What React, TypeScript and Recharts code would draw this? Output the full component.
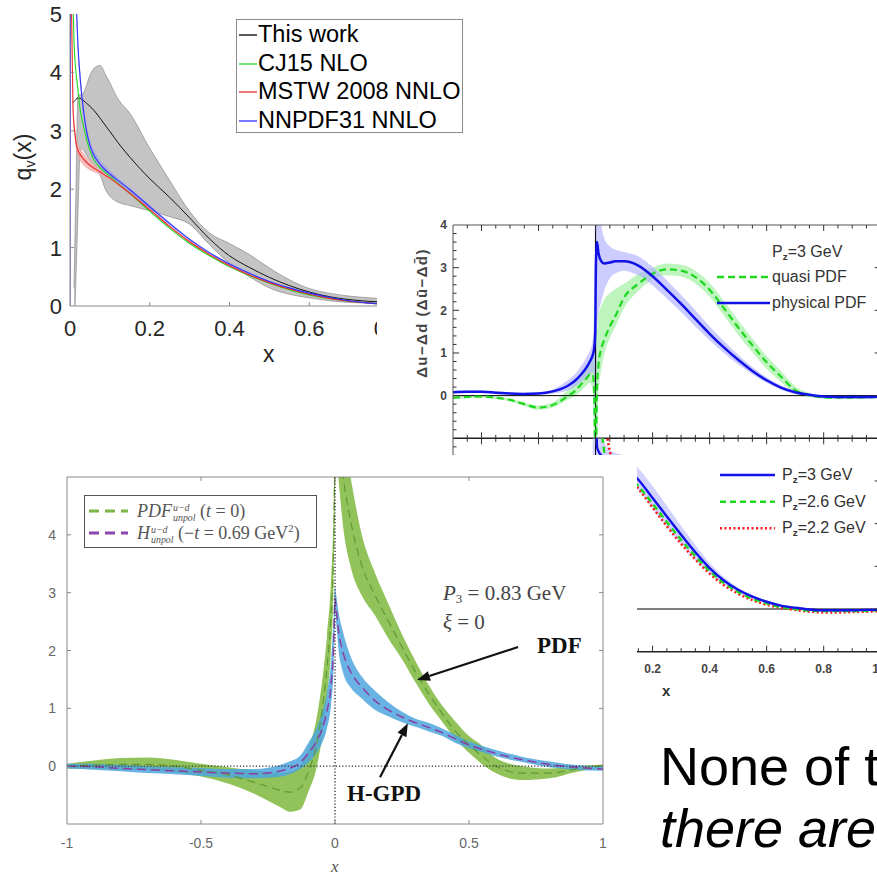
import React from 'react';
import { ComposedChart, Line, Area, XAxis, YAxis, ReferenceLine } from 'recharts';

const SANS = '"Liberation Sans", Arial, Helvetica, sans-serif';
const SERIF = '"Liberation Serif", "Times New Roman", serif';

// ---------- top-left figure: q_v(x) ----------
const qvX = [0, 0.002, 0.005, 0.0075, 0.01, 0.0125, 0.015, 0.02, 0.025, 0.03, 0.04, 0.05, 0.06, 0.075, 0.09, 0.1, 0.12, 0.15, 0.2, 0.25, 0.3, 0.35, 0.4, 0.45, 0.5, 0.55, 0.6, 0.65, 0.7, 0.75, 0.8];
const thisWork = [null, null, null, 3.48, 3.5, 3.52, 3.54, 3.56, 3.56, 3.54, 3.48, 3.42, 3.35, 3.22, 3.08, 2.99, 2.8, 2.55, 2.18, 1.86, 1.51, 1.15, 0.86, 0.66, 0.49, 0.35, 0.24, 0.16, 0.11, 0.08, 0.06];
const thisWorkLo = [null, null, null, null, 0, 0, 0.5, 1.6, 2.6, 2.7, 2.6, 2.5, 2.4, 2.25, 1.98, 1.88, 1.78, 1.72, 1.63, 1.53, 1.4, 1.05, 0.73, 0.5, 0.31, 0.2, 0.14, 0.09, 0.06, 0.05, 0.04];
const thisWorkHi = [null, null, null, null, 0.3, 1.2, 2.0, 3.6, 3.62, 3.62, 3.75, 3.95, 4.07, 4.12, 3.95, 3.82, 3.55, 3.3, 2.7, 2.15, 1.62, 1.25, 1.07, 0.88, 0.65, 0.45, 0.3, 0.22, 0.17, 0.14, 0.12];
const cj15 = [null, null, 6.5, 5.3, 4.55, 4.2, 4.0, 3.7, 3.38, 3.2, 2.9, 2.66, 2.5, 2.37, 2.28, 2.22, 2.1, 1.93, 1.62, 1.33, 1.07, 0.86, 0.67, 0.52, 0.39, 0.28, 0.19, 0.13, 0.08, 0.05, 0.03];
const mstw = [null, 6, 4.55, 3.41, 3.1, 2.95, 2.8, 2.66, 2.6, 2.55, 2.47, 2.41, 2.36, 2.3, 2.23, 2.19, 2.09, 1.93, 1.65, 1.36, 1.1, 0.88, 0.69, 0.53, 0.4, 0.29, 0.2, 0.13, 0.08, 0.05, 0.03];
const mstwLo = [null, 5.8, 4.4, 3.3, 2.98, 2.82, 2.68, 2.55, 2.49, 2.44, 2.37, 2.32, 2.29, 2.25, 2.19, 2.16, 2.07, 1.91, 1.63, 1.34, 1.08, 0.86, 0.67, 0.51, 0.38, 0.27, 0.19, 0.12, 0.07, 0.04, 0.02];
const mstwHi = [null, 6.2, 4.7, 3.52, 3.22, 3.08, 2.92, 2.77, 2.71, 2.66, 2.57, 2.5, 2.43, 2.35, 2.27, 2.22, 2.11, 1.95, 1.67, 1.38, 1.12, 0.9, 0.71, 0.55, 0.42, 0.31, 0.21, 0.14, 0.09, 0.06, 0.04];
const nnpdf = [0, 7, 7, 6.5, 6.0, 5.6, 5.3, 4.45, 3.95, 3.58, 3.05, 2.75, 2.58, 2.43, 2.32, 2.26, 2.15, 1.99, 1.7, 1.41, 1.14, 0.91, 0.72, 0.56, 0.42, 0.31, 0.22, 0.15, 0.09, 0.05, 0.03];
const nnpdfLo = [null, null, null, 6.3, 5.8, 5.4, 5.1, 4.3, 3.82, 3.47, 2.95, 2.66, 2.5, 2.36, 2.26, 2.2, 2.1, 1.95, 1.67, 1.38, 1.12, 0.89, 0.7, 0.54, 0.41, 0.3, 0.21, 0.14, 0.08, 0.04, 0.02];
const nnpdfHi = [null, null, null, 6.7, 6.2, 5.8, 5.5, 4.6, 4.08, 3.7, 3.16, 2.85, 2.67, 2.5, 2.39, 2.32, 2.2, 2.03, 1.73, 1.44, 1.16, 0.93, 0.74, 0.58, 0.43, 0.32, 0.23, 0.16, 0.1, 0.06, 0.04];
const qvXTicks = [0, 0.2, 0.4, 0.6, 0.8];
const qvXLabels = ['0', '0.2', '0.4', '0.6', '0.8'];
const qvYTicks = [0, 1, 2, 3, 4, 5];
const qvYLabels = ['0', '1', '2', '3', '4', '5'];
const qvLegend = ['This work', 'CJ15 NLO', 'MSTW 2008 NNLO', 'NNPDF31 NNLO'];

// ---------- right figure, upper panel: helicity PDF ----------
const helX = [-0.5, -0.45, -0.4, -0.35, -0.3, -0.25, -0.2, -0.15, -0.1, -0.07, -0.05, -0.03, -0.02, -0.01, -0.005, -0.001, 0.001, 0.005, 0.01, 0.02, 0.03, 0.05, 0.07, 0.1, 0.15, 0.2, 0.25, 0.3, 0.35, 0.4, 0.45, 0.5, 0.55, 0.6, 0.65, 0.7, 0.75, 0.8, 0.85, 0.9, 0.95, 1.0];
const physical = [0.08, 0.09, 0.09, 0.07, 0.05, 0.04, 0.05, 0.1, 0.22, 0.36, 0.5, 0.68, 0.8, 0.95, 1.1, 1.5, 3.0, 3.6, 3.35, 3.15, 3.1, 3.12, 3.15, 3.15, 3.05, 2.8, 2.48, 2.15, 1.8, 1.45, 1.13, 0.84, 0.58, 0.36, 0.19, 0.08, 0.02, -0.02, -0.03, -0.03, -0.03, -0.02];
const physLo = [0.05, 0.06, 0.06, 0.04, 0.02, 0.01, 0.02, 0.05, 0.12, 0.22, 0.32, 0.45, 0.5, 0.55, 0.4, -1.5, -1.5, 1.5, 1.9, 2.2, 2.45, 2.75, 2.87, 2.93, 2.82, 2.58, 2.28, 1.96, 1.62, 1.3, 1.0, 0.73, 0.5, 0.3, 0.14, 0.04, -0.01, -0.05, -0.06, -0.06, -0.06, -0.05];
const physHi = [0.11, 0.12, 0.12, 0.1, 0.08, 0.07, 0.08, 0.15, 0.35, 0.52, 0.7, 0.92, 1.05, 1.3, 2.0, 5, 5, 5, 4.6, 4.0, 3.7, 3.5, 3.42, 3.37, 3.27, 3.02, 2.7, 2.36, 2.0, 1.62, 1.28, 0.96, 0.67, 0.43, 0.24, 0.12, 0.05, 0.01, 0.0, 0.0, 0.0, 0.01];
const quasi = [-0.05, -0.03, -0.02, -0.05, -0.1, -0.2, -0.28, -0.22, -0.02, 0.12, 0.27, 0.42, 0.5, 0.5, 0.2, -1.5, -1.5, 0.2, 0.7, 1.1, 1.3, 1.62, 1.87, 2.3, 2.62, 2.86, 2.96, 2.93, 2.78, 2.48, 2.05, 1.6, 1.18, 0.78, 0.45, 0.13, 0.01, -0.04, -0.05, -0.05, -0.04, -0.03];
const quasiLo = [-0.08, -0.06, -0.05, -0.08, -0.13, -0.24, -0.33, -0.28, -0.1, 0.0, 0.12, 0.25, 0.3, 0.1, -1, -1.5, -1.5, -1.5, 0.0, 0.6, 0.95, 1.35, 1.62, 2.05, 2.45, 2.72, 2.82, 2.79, 2.63, 2.32, 1.88, 1.43, 1.02, 0.63, 0.32, 0.04, -0.04, -0.07, -0.08, -0.08, -0.07, -0.06];
const quasiHi = [-0.02, 0.0, 0.01, -0.02, -0.07, -0.16, -0.23, -0.16, 0.12, 0.3, 0.45, 0.65, 0.75, 0.9, 1.2, 2.5, 2.5, 1.5, 1.9, 2.1, 2.25, 2.4, 2.5, 2.62, 2.85, 3.0, 3.1, 3.07, 2.93, 2.64, 2.22, 1.77, 1.34, 0.93, 0.58, 0.22, 0.06, -0.01, -0.02, -0.02, -0.01, 0.0];

// ---------- right figure, lower panel: momentum dependence ----------
const pzX = [-0.01, 0.001, 0.005, 0.01, 0.02, 0.03, 0.04, 0.05, 0.06, 0.08, 0.1, 0.15, 0.2, 0.25, 0.3, 0.35, 0.4, 0.45, 0.5, 0.55, 0.6, 0.65, 0.7, 0.75, 0.8, 0.85, 0.9, 0.95, 1.0];
const pz3 = [null, 6, 3.8, 3.7, 3.6, 3.5, 3.45, 3.42, 3.4, 3.38, 3.33, 3.03, 2.6, 2.17, 1.74, 1.33, 0.96, 0.67, 0.45, 0.29, 0.17, 0.08, 0.03, -0.01, -0.03, -0.03, -0.03, -0.02, -0.02];
const pz3Lo = [-1.5, -1.5, 2.5, 3.2, 3.3, 3.25, 3.2, 3.17, 3.15, 3.12, 3.05, 2.78, 2.35, 1.93, 1.52, 1.15, 0.83, 0.58, 0.38, 0.24, 0.13, 0.05, 0.0, -0.04, -0.06, -0.06, -0.06, -0.05, -0.05];
const pz3Hi = [8, 8, 8, 5.0, 4.2, 3.9, 3.8, 3.72, 3.68, 3.64, 3.6, 3.3, 2.88, 2.42, 1.95, 1.5, 1.08, 0.75, 0.5, 0.33, 0.2, 0.1, 0.05, 0.02, 0.0, 0.0, 0.0, 0.01, 0.01];
const pz26 = [null, 12, 9, 6.5, 4.5, 3.7, 3.45, 3.36, 3.32, 3.27, 3.2, 2.88, 2.47, 2.04, 1.62, 1.24, 0.89, 0.61, 0.4, 0.24, 0.13, 0.05, 0.0, -0.04, -0.05, -0.05, -0.05, -0.04, -0.03];
const pz22 = [null, 14, 11, 8.5, 5.8, 4.8, 4.1, 3.7, 3.5, 3.3, 3.2, 2.82, 2.38, 1.94, 1.53, 1.16, 0.83, 0.56, 0.36, 0.21, 0.1, 0.03, -0.02, -0.06, -0.08, -0.08, -0.07, -0.06, -0.05];
const helXTicks = [-0.5, -0.45, -0.4, -0.35, -0.3, -0.25, -0.2, -0.15, -0.1, -0.05, 0, 0.05, 0.1, 0.15, 0.2, 0.25, 0.3, 0.35, 0.4, 0.45, 0.5, 0.55, 0.6, 0.65, 0.7, 0.75, 0.8, 0.85, 0.9, 0.95, 1.0];
const helXMajor = [-0.4, -0.2, 0, 0.2, 0.4, 0.6, 0.8, 1.0];
const helXLabels = ['-0.4', '-0.2', '0.0', '0.2', '0.4', '0.6', '0.8', '1.0'];
const helYTicks = [-1, -0.8, -0.6, -0.4, -0.2, 0, 0.2, 0.4, 0.6, 0.8, 1, 1.2, 1.4, 1.6, 1.8, 2, 2.2, 2.4, 2.6, 2.8, 3, 3.2, 3.4, 3.6, 3.8, 4];
const helYMajor = [-1, 0, 1, 2, 3, 4];
const helYLabels = ['', '0', '1', '2', '3', '4'];

// ---------- bottom-left figure: PDF vs H-GPD ----------
const gX = [-1, -0.9, -0.8, -0.7, -0.6, -0.5, -0.4, -0.3, -0.2, -0.17, -0.13, -0.1, -0.07, -0.05, -0.03, -0.015, -0.005, 0, 0.005, 0.012, 0.03, 0.06, 0.1, 0.15, 0.2, 0.25, 0.3, 0.35, 0.4, 0.45, 0.5, 0.55, 0.6, 0.7, 0.8, 0.9, 1.0];
const pdfMid = [0, 0.02, 0.03, 0.03, 0.0, -0.07, -0.15, -0.28, -0.42, -0.45, -0.38, -0.1, 0.35, 0.9, 1.7, 2.6, 3.8, 5.5, 6.0, 5.6, 5.0, 4.2, 3.47, 2.95, 2.5, 2.06, 1.63, 1.25, 0.91, 0.6, 0.37, 0.17, 0.0, -0.12, -0.12, -0.05, 0.01];
const pdfLo = [-0.04, -0.05, -0.06, -0.07, -0.11, -0.18, -0.3, -0.48, -0.72, -0.79, -0.75, -0.45, -0.05, 0.45, 1.2, 2.0, 3.2, 4.8, 5.3, 5.0, 4.15, 3.42, 2.95, 2.6, 2.2, 1.85, 1.45, 1.08, 0.77, 0.47, 0.23, 0.03, -0.12, -0.24, -0.21, -0.1, -0.02];
const pdfHi = [0.04, 0.1, 0.14, 0.15, 0.11, 0.04, -0.02, -0.08, -0.12, -0.1, 0.0, 0.3, 0.8, 1.4, 2.25, 3.2, 4.5, 6.2, 6.5, 6.3, 5.8, 4.95, 4.0, 3.33, 2.8, 2.28, 1.82, 1.4, 1.05, 0.77, 0.52, 0.35, 0.14, 0.0, -0.04, 0.0, 0.03];
const gpdMid = [0, -0.01, -0.04, -0.06, -0.08, -0.1, -0.12, -0.13, -0.08, -0.04, 0.06, 0.22, 0.42, 0.62, 0.95, 1.4, 2.1, 2.9, 2.7, 2.38, 1.97, 1.62, 1.37, 1.13, 0.97, 0.85, 0.75, 0.67, 0.58, 0.47, 0.37, 0.29, 0.22, 0.11, 0.03, -0.02, -0.05];
const gpdLo = [-0.04, -0.06, -0.09, -0.12, -0.14, -0.17, -0.2, -0.21, -0.18, -0.14, -0.05, 0.06, 0.22, 0.38, 0.65, 1.05, 1.7, 2.7, 2.45, 2.06, 1.62, 1.35, 1.17, 0.97, 0.86, 0.76, 0.68, 0.6, 0.52, 0.4, 0.31, 0.24, 0.17, 0.07, -0.02, -0.06, -0.08];
const gpdHi = [0.04, 0.04, 0.02, 0.0, -0.02, -0.03, -0.05, -0.05, 0.03, 0.08, 0.18, 0.4, 0.65, 0.9, 1.28, 1.8, 2.6, 3.1, 2.95, 2.7, 2.32, 1.88, 1.55, 1.3, 1.1, 0.94, 0.82, 0.75, 0.65, 0.54, 0.43, 0.35, 0.28, 0.16, 0.08, 0.02, -0.01];
const gXTicks = [-1, -0.5, 0, 0.5, 1];
const gXLabels = ['-1', '-0.5', '0', '0.5', '1'];
const gYTicks = [0, 1, 2, 3, 4];
const gYLabels = ['0', '1', '2', '3', '4'];
// arrow annotations, in data units: [from, to]
const pdfArrow = [{ x: 0.683, y: 2.06 }, { x: 0.306, y: 1.49 }];
const gpdArrow = [{ x: 0.168, y: -0.19 }, { x: 0.272, y: 0.74 }];

// ---------- helpers ----------
type Num = number | null;
function buildRows(xs: number[], lines: Record<string, Num[]>, bands: Record<string, [Num[], Num[]]>) {
  return xs.map((x, i) => {
    const r: any = { x };
    for (const k in lines) r[k] = lines[k][i];
    for (const k in bands) {
      const lo = bands[k][0][i];
      const hi = bands[k][1][i];
      r[k] = lo == null || hi == null ? null : [lo, hi];
    }
    return r;
  });
}

const qvRows = buildRows(qvX, { thisWork, cj15, mstw, nnpdf }, {
  twBand: [thisWorkLo, thisWorkHi], mstwBand: [mstwLo, mstwHi], nnBand: [nnpdfLo, nnpdfHi],
});
const helRows = buildRows(helX, { physical, quasi }, { physBand: [physLo, physHi], quasiBand: [quasiLo, quasiHi] });
const pzRows = buildRows(pzX, { pz3, pz26, pz22 }, { pz3Band: [pz3Lo, pz3Hi] });
const gRows = buildRows(gX, { pdfMid, gpdMid }, { pdfBand: [pdfLo, pdfHi], gpdBand: [gpdLo, gpdHi] });

type Geo = { left: number; top: number; right: number; bottom: number };
const near = (list: number[], v: number) => list.findIndex((t) => Math.abs(t - v) < 1e-6);

type TickCfg = {
  major: number[];
  majorLen: number;
  minorLen: number;
  a: boolean; // bottom / left side
  b: boolean; // top / right side
  color: string;
  width?: number;
  labels?: string[];
  offset: number;
  size: number;
  family: string;
  weight?: string | number;
  fill: string;
};

const xTick = (g: Geo, c: TickCfg) => (p: any) => {
  const x = p.x;
  const v = p.payload.value;
  const mi = near(c.major, v);
  const edge = Math.abs(x - g.left) < 1 || Math.abs(x - g.right) < 1;
  const len = edge ? 0 : mi >= 0 ? c.majorLen : c.minorLen;
  const t = c.labels && mi >= 0 ? c.labels[mi] : '';
  return (
    <g>
      {c.a && len > 0 && <line x1={x} x2={x} y1={g.bottom} y2={g.bottom - len} stroke={c.color} strokeWidth={c.width ?? 1} />}
      {c.b && len > 0 && <line x1={x} x2={x} y1={g.top} y2={g.top + len} stroke={c.color} strokeWidth={c.width ?? 1} />}
      {t !== '' && (
        <text x={x} y={g.bottom + c.offset} textAnchor="middle" fontFamily={c.family} fontSize={c.size} fontWeight={c.weight} fill={c.fill}>
          {t}
        </text>
      )}
    </g>
  );
};

const yTick = (g: Geo, c: TickCfg) => (p: any) => {
  const y = p.y;
  const v = p.payload.value;
  const mi = near(c.major, v);
  const edge = Math.abs(y - g.top) < 1 || Math.abs(y - g.bottom) < 1;
  const len = edge ? 0 : mi >= 0 ? c.majorLen : c.minorLen;
  const t = c.labels && mi >= 0 ? c.labels[mi] : '';
  return (
    <g>
      {c.a && len > 0 && <line x1={g.left} x2={g.left + len} y1={y} y2={y} stroke={c.color} strokeWidth={c.width ?? 1} />}
      {c.b && len > 0 && <line x1={g.right} x2={g.right - len} y1={y} y2={y} stroke={c.color} strokeWidth={c.width ?? 1} />}
      {t !== '' && (
        <text x={g.left - c.offset} y={y + c.size * 0.36} textAnchor="end" fontFamily={c.family} fontSize={c.size} fontWeight={c.weight} fill={c.fill}>
          {t}
        </text>
      )}
    </g>
  );
};

function Txt(props: any) {
  const { x, cy, size, family = SANS, weight, italic, color = '#000', spacing, children } = props;
  return (
    <div
      style={{
        position: 'absolute', left: x, top: cy - size * 0.5, fontSize: size, lineHeight: `${size}px`,
        fontFamily: family, fontWeight: weight, fontStyle: italic ? 'italic' : 'normal', color, whiteSpace: 'nowrap',
        letterSpacing: spacing,
      }}
    >
      {children}
    </div>
  );
}

function VTxt(props: any) {
  const { cx, cy, size, family = SANS, weight, color = '#000', spacing, children } = props;
  return (
    <div
      style={{
        position: 'absolute', left: cx, top: cy, fontSize: size, lineHeight: `${size}px`, fontFamily: family,
        fontWeight: weight, color, whiteSpace: 'nowrap', letterSpacing: spacing, transform: 'translate(-50%, -50%) rotate(-90deg)',
      }}
    >
      {children}
    </div>
  );
}

function Seg(props: any) {
  const { x1, x2, y, color, width, dash } = props;
  return (
    <svg style={{ position: 'absolute', left: 0, top: 0, overflow: 'visible' }} width={1} height={1}>
      <line x1={x1} x2={x2} y1={y} y2={y} stroke={color} strokeWidth={width} strokeDasharray={dash} />
    </svg>
  );
}

const sub = (s: string, extra?: any) => (
  <span style={{ fontSize: '0.62em', position: 'relative', top: '0.3em', lineHeight: 0, ...extra }}>{s}</span>
);

const stack = (hi: string, lo: string) => (
  <span style={{ display: 'inline-block', verticalAlign: 'middle', fontSize: '0.55em', lineHeight: '1em', fontStyle: 'italic', marginLeft: 1 }}>
    <span style={{ display: 'block' }}>{hi}</span>
    <span style={{ display: 'block' }}>{lo}</span>
  </span>
);

const arrowShape = (p: any) => {
  const { x1, y1, x2, y2 } = p;
  const ang = Math.atan2(y2 - y1, x2 - x1);
  const L = 13;
  const W = 5;
  const bx = x2 - L * Math.cos(ang);
  const by = y2 - L * Math.sin(ang);
  const pts = `${x2},${y2} ${bx + W * Math.sin(ang)},${by - W * Math.cos(ang)} ${bx - W * Math.sin(ang)},${by + W * Math.cos(ang)}`;
  return (
    <g>
      <line x1={x1} y1={y1} x2={bx} y2={by} stroke="#111" strokeWidth={2.2} />
      <polygon points={pts} fill="#111" />
    </g>
  );
};

// ---------- panels ----------
const qvGeo: Geo = { left: 70, top: 14, right: 389, bottom: 306 };
const qvColors = ['#000', '#22dd22', '#ee2b2b', '#3030ff'];

function QvPanel() {
  const base = { color: '#8a8a8a', size: 22, family: SANS, fill: '#262626', majorLen: 4, minorLen: 0 };
  return (
    <>
      <div style={{ position: 'absolute', left: 0, top: 0 }}>
        <ComposedChart width={410} height={370} data={qvRows} margin={{ top: 14, right: 21, bottom: 0, left: 0 }}>
          <XAxis type="number" dataKey="x" domain={[0, 0.8]} ticks={qvXTicks} interval={0} allowDataOverflow height={64}
            axisLine={{ stroke: '#8a8a8a' }} tickLine={false}
            tick={xTick(qvGeo, { ...base, major: qvXTicks, labels: qvXLabels, a: true, b: false, offset: 30 })} />
          <YAxis type="number" domain={[0, 5]} ticks={qvYTicks} interval={0} allowDataOverflow width={70}
            axisLine={{ stroke: '#8a8a8a' }} tickLine={false}
            tick={yTick(qvGeo, { ...base, major: qvYTicks, labels: qvYLabels, a: true, b: false, offset: 8 })} />
          <Area dataKey="twBand" type="monotone" fill="#c4c4c4" fillOpacity={1} stroke="#7c7c7c" strokeWidth={0.6} connectNulls isAnimationActive={false} />
          <Area dataKey="mstwBand" type="monotone" fill="#f2a5a5" fillOpacity={0.75} stroke="none" connectNulls isAnimationActive={false} />
          <Area dataKey="nnBand" type="monotone" fill="#9c9cf0" fillOpacity={0.65} stroke="none" connectNulls isAnimationActive={false} />
          <Line dataKey="thisWork" type="monotone" stroke={qvColors[0]} strokeWidth={0.9} dot={false} connectNulls isAnimationActive={false} />
          <Line dataKey="cj15" type="monotone" stroke={qvColors[1]} strokeWidth={1.1} dot={false} connectNulls isAnimationActive={false} />
          <Line dataKey="mstw" type="monotone" stroke={qvColors[2]} strokeWidth={1.1} dot={false} connectNulls isAnimationActive={false} />
          <Line dataKey="nnpdf" type="monotone" stroke={qvColors[3]} strokeWidth={1.1} dot={false} connectNulls isAnimationActive={false} />
        </ComposedChart>
      </div>
      <VTxt cx={23} cy={157} size={23} color="#262626">
        q{sub('v')}(x)
      </VTxt>
      <Txt x={263} cy={354} size={23} color="#262626">x</Txt>
      <div style={{ position: 'absolute', left: 236, top: 19, width: 227, height: 114, border: '1px solid #8c8c8c', background: '#fff', boxSizing: 'border-box' }}>
        {qvLegend.map((name, i) => {
          const cy = Math.round(15 + i * 28.5);
          return (
            <React.Fragment key={name}>
              <Seg x1={2} x2={20} y={cy} color={qvColors[i]} width={1.3} />
              <Txt x={21} cy={cy} size={23.5} color="#000">{name}</Txt>
            </React.Fragment>
          );
        })}
      </div>
    </>
  );
}

const HX = 377;
const HY = 212;
const helGeo: Geo = { left: 76, top: 13, right: 503.7, bottom: 226.3 };
const pzGeo: Geo = { left: 76, top: 226.3, right: 503.7, bottom: 439.7 };

function HelicityPanel() {
  const tk = { color: '#333', size: 12, family: SANS, weight: 700, fill: '#444', majorLen: 6, minorLen: 3.5 };
  return (
    <div style={{ position: 'absolute', left: HX, top: HY, width: 500, height: 661, background: '#fff', overflow: 'hidden' }}>
      <div style={{ position: 'absolute', left: 0, top: 0 }}>
        <ComposedChart width={520} height={240} data={helRows} margin={{ top: 13, right: 16.3, bottom: 0, left: 0 }}>
          <XAxis type="number" dataKey="x" domain={[-0.5, 1]} ticks={helXTicks} interval={0} allowDataOverflow height={13.7}
            axisLine={{ stroke: '#222', strokeWidth: 1.6 }} tickLine={false}
            tick={xTick(helGeo, { ...tk, major: helXMajor, a: true, b: true, offset: 0 })} />
          <YAxis type="number" domain={[-1, 4]} ticks={helYTicks} interval={0} allowDataOverflow width={76}
            axisLine={{ stroke: '#555' }} tickLine={false}
            tick={yTick(helGeo, { ...tk, major: helYMajor, labels: helYLabels, a: true, b: true, offset: 6 })} />
          <ReferenceLine y={4} stroke="#555" strokeWidth={1.2} />
          <Area dataKey="quasiBand" type="monotone" fill="#a8f0a8" fillOpacity={0.75} stroke="none" connectNulls isAnimationActive={false} />
          <Area dataKey="physBand" type="monotone" fill="#aaaaff" fillOpacity={0.6} stroke="none" connectNulls isAnimationActive={false} />
          <ReferenceLine y={0} stroke="#000" strokeWidth={1} />
          <ReferenceLine x={0} stroke="#000" strokeWidth={1} />
          <Line dataKey="quasi" type="monotone" stroke="#1ed81e" strokeWidth={2.2} strokeDasharray="7 4" dot={false} connectNulls isAnimationActive={false} />
          <Line dataKey="physical" type="monotone" stroke="#1212e6" strokeWidth={2.5} dot={false} connectNulls isAnimationActive={false} />
        </ComposedChart>
      </div>
      <div style={{ position: 'absolute', left: 0, top: 0 }}>
        <ComposedChart width={520} height={486} data={pzRows} margin={{ top: 226.3, right: 16.3, bottom: 0, left: 0 }}>
          <XAxis type="number" dataKey="x" domain={[-0.5, 1]} ticks={helXTicks} interval={0} allowDataOverflow height={46.3}
            axisLine={{ stroke: '#222', strokeWidth: 1.4 }} tickLine={false}
            tick={xTick(pzGeo, { ...tk, major: helXMajor, labels: helXLabels, a: true, b: true, offset: 21 })} />
          <YAxis type="number" domain={[-1, 4]} ticks={helYTicks} interval={0} allowDataOverflow width={76}
            axisLine={{ stroke: '#555' }} tickLine={false}
            tick={yTick(pzGeo, { ...tk, major: helYMajor, a: true, b: true, offset: 6 })} />
          <Area dataKey="pz3Band" type="monotone" fill="#b4b4ff" fillOpacity={0.6} stroke="none" connectNulls isAnimationActive={false} />
          <ReferenceLine y={0} stroke="#000" strokeWidth={1.2} />
          <ReferenceLine x={0} stroke="#000" strokeWidth={1} />
          <Line dataKey="pz22" type="monotone" stroke="#ff1a1a" strokeWidth={2.6} strokeDasharray="2 2.5" dot={false} connectNulls isAnimationActive={false} />
          <Line dataKey="pz26" type="monotone" stroke="#1ed81e" strokeWidth={2.4} strokeDasharray="6 4" dot={false} connectNulls isAnimationActive={false} />
          <Line dataKey="pz3" type="monotone" stroke="#1212e6" strokeWidth={2.4} dot={false} connectNulls isAnimationActive={false} />
        </ComposedChart>
      </div>
      <VTxt cx={421 - HX} cy={313 - HY} size={15} weight={700} color="#444" spacing="1.4px">
        Δu−Δd (Δū−Δd̄)
      </VTxt>
      <Txt x={772 - HX} cy={252 - HY} size={16} color="#333">P{sub('z', { fontWeight: 700 })}=3 GeV</Txt>
      <Seg x1={717 - HX} x2={770 - HX} y={277 - HY} color="#1ed81e" width={2.4} dash="7 4" />
      <Txt x={772 - HX} cy={277 - HY} size={16} color="#333">quasi PDF</Txt>
      <Seg x1={717 - HX} x2={770 - HX} y={303 - HY} color="#1212e6" width={2.6} />
      <Txt x={772 - HX} cy={303 - HY} size={16} color="#333">physical PDF</Txt>

      <Seg x1={720 - HX} x2={775 - HX} y={475 - HY} color="#1212e6" width={2.6} />
      <Txt x={782 - HX} cy={475 - HY} size={16} color="#333">P{sub('z', { fontWeight: 700 })}=3 GeV</Txt>
      <Seg x1={720 - HX} x2={775 - HX} y={501.7 - HY} color="#1ed81e" width={2.4} dash="6 4" />
      <Txt x={782 - HX} cy={501.7 - HY} size={16} color="#333">P{sub('z', { fontWeight: 700 })}=2.6 GeV</Txt>
      <Seg x1={720 - HX} x2={775 - HX} y={528.3 - HY} color="#ff1a1a" width={2.6} dash="2 2.5" />
      <Txt x={782 - HX} cy={528.3 - HY} size={16} color="#333">P{sub('z', { fontWeight: 700 })}=2.2 GeV</Txt>
      <Txt x={662 - HX} cy={690 - HY} size={15} weight={700} color="#333">x</Txt>
    </div>
  );
}

const GX = 0;
const GY = 455;
const gGeo: Geo = { left: 67, top: 22, right: 603, bottom: 369 };

function GpdPanel() {
  const tk = { color: '#888', size: 14, family: SANS, fill: '#666', majorLen: 4, minorLen: 0 };
  return (
    <div style={{ position: 'absolute', left: GX, top: GY, width: 637, height: 418, background: '#fff', overflow: 'hidden' }}>
      <div style={{ position: 'absolute', left: 0, top: 0 }}>
        <ComposedChart width={637} height={418} data={gRows} margin={{ top: 22, right: 34, bottom: 0, left: 0 }}>
          <XAxis type="number" dataKey="x" domain={[-1, 1]} ticks={gXTicks} interval={0} allowDataOverflow height={49}
            axisLine={{ stroke: '#888' }} tickLine={false}
            tick={xTick(gGeo, { ...tk, major: gXTicks, labels: gXLabels, a: true, b: true, offset: 24 })} />
          <YAxis type="number" domain={[-1, 5]} ticks={gYTicks} interval={0} allowDataOverflow width={67}
            axisLine={{ stroke: '#888' }} tickLine={false}
            tick={yTick(gGeo, { ...tk, major: gYTicks, labels: gYLabels, a: true, b: true, offset: 11 })} />
          <ReferenceLine y={5} stroke="#888" />
          <ReferenceLine x={1} stroke="#888" />
          <Area dataKey="pdfBand" type="monotone" fill="#92c35a" fillOpacity={1} stroke="none" connectNulls isAnimationActive={false} />
          <Area dataKey="gpdBand" type="monotone" fill="#4ea6de" fillOpacity={0.85} stroke="none" connectNulls isAnimationActive={false} />
          <Line dataKey="pdfMid" type="monotone" stroke="#5f9a35" strokeWidth={1.2} strokeDasharray="8 5" dot={false} connectNulls isAnimationActive={false} />
          <Line dataKey="gpdMid" type="monotone" stroke="#8a3fa3" strokeWidth={1.5} strokeDasharray="9 5" dot={false} connectNulls isAnimationActive={false} />
          <ReferenceLine y={0} stroke="#333" strokeWidth={1.2} strokeDasharray="1.2 2" />
          <ReferenceLine x={0} stroke="#333" strokeWidth={1.4} strokeDasharray="1.2 2" />
          <ReferenceLine segment={pdfArrow} shape={arrowShape} />
          <ReferenceLine segment={gpdArrow} shape={arrowShape} />
        </ComposedChart>
      </div>
      <div style={{ position: 'absolute', left: 84, top: 40, width: 233, height: 53, border: '1px solid #555', background: '#fff', boxSizing: 'border-box' }}>
        <Seg x1={4} x2={43} y={15} color="#7ab648" width={3} dash="10 6" />
        <Seg x1={4} x2={43} y={37} color="#8e44ad" width={3} dash="10 6" />
        <Txt x={52} cy={15} size={18} family={SERIF} color="#555">
          <i>PDF</i>
          {stack('u−d', 'unpol')}{' '}
          (<i>t</i> = 0)
        </Txt>
        <Txt x={52} cy={37} size={18} family={SERIF} color="#555">
          <i>H</i>
          {stack('u−d', 'unpol')}{' '}
          (−<i>t</i> = 0.69 GeV<sup style={{ fontSize: '0.6em', lineHeight: 0 }}>2</sup>)
        </Txt>
      </div>
      <Txt x={443} cy={593 - GY} size={21} family={SERIF} color="#444">
        <i>P</i>{sub('3')} = 0.83 GeV
      </Txt>
      <Txt x={443} cy={622 - GY} size={21} family={SERIF} color="#444">
        <i>ξ</i> = 0
      </Txt>
      <Txt x={537} cy={645 - GY} size={23} family={SERIF} weight={700} color="#111">PDF</Txt>
      <Txt x={347} cy={793 - GY} size={23} family={SERIF} weight={700} color="#111">H-GPD</Txt>
      <Txt x={331} cy={866 - GY} size={17} family={SERIF} italic color="#555">x</Txt>
    </div>
  );
}

export default function App() {
  return (
    <div style={{ position: 'absolute', left: 0, top: 0, width: 877, height: 873, overflow: 'hidden', background: '#fff', fontFamily: SANS }}>
      <QvPanel />
      <HelicityPanel />
      <GpdPanel />
      <div style={{ position: 'absolute', left: 660, top: 785 - 0.8465 * 54, fontSize: 54, lineHeight: '54px', fontFamily: SANS, color: '#000', whiteSpace: 'nowrap' }}>
        None of t
      </div>
      <div style={{ position: 'absolute', left: 660, top: 847 - 0.8465 * 54, fontSize: 54, lineHeight: '54px', fontFamily: SANS, fontStyle: 'italic', color: '#000', whiteSpace: 'nowrap' }}>
        there are
      </div>
    </div>
  );
}
